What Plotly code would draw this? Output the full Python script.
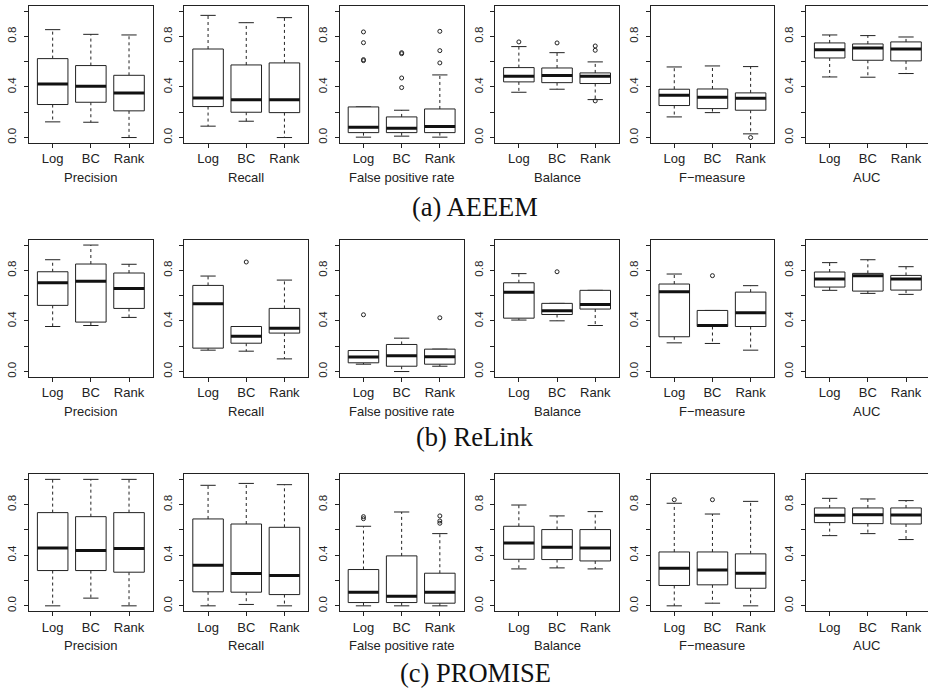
import plotly.graph_objects as go

METHODS = ["Log", "BC", "Rank"]
METRICS = ["Precision", "Recall", "False positive rate", "Balance", "F\u2212measure", "AUC"]
DATASETS = ["(a) AEEEM", "(b) ReLink", "(c) PROMISE"]
Y_TICKS = [0.0, 0.2, 0.4, 0.6, 0.8, 1.0]
Y_TICK_TEXT = ["0.0", "", "0.4", "", "0.8", ""]

# Each list: 6 metrics (Precision, Recall, FPR, Balance, F-measure, AUC) x 3 methods (Log, BC, Rank)
aeeem_low = [[0.124, 0.121, 0.0], [0.090, 0.129, 0.0], [0.003, 0.011, 0.003],
             [0.358, 0.382, 0.300], [0.163, 0.197, 0.029], [0.479, 0.477, 0.506]]
aeeem_q1 = [[0.261, 0.279, 0.211], [0.245, 0.200, 0.197], [0.039, 0.039, 0.039],
            [0.440, 0.434, 0.427], [0.253, 0.229, 0.216], [0.629, 0.611, 0.606]]
aeeem_med = [[0.424, 0.405, 0.353], [0.313, 0.298, 0.298], [0.082, 0.074, 0.087],
             [0.484, 0.490, 0.484], [0.334, 0.319, 0.311], [0.695, 0.708, 0.700]]
aeeem_q3 = [[0.624, 0.569, 0.492], [0.700, 0.574, 0.590], [0.242, 0.163, 0.226],
            [0.553, 0.550, 0.511], [0.382, 0.384, 0.353], [0.748, 0.740, 0.756]]
aeeem_high = [[0.853, 0.816, 0.811], [0.966, 0.908, 0.948], [0.242, 0.216, 0.495],
              [0.719, 0.671, 0.598], [0.558, 0.566, 0.561], [0.811, 0.806, 0.795]]
aeeem_out = [[[], [], []], [[], [], []],
             [[0.835, 0.750, 0.616, 0.608], [0.671, 0.663, 0.471, 0.395], [0.840, 0.687, 0.590]],
             [[0.756], [0.748], [0.724, 0.690, 0.290]], [[], [], [0.0]], [[], [], []]]

relink_low = [[0.356, 0.364, 0.428], [0.169, 0.161, 0.100], [0.058, 0.0, 0.042],
              [0.407, 0.401, 0.364], [0.227, 0.222, 0.169], [0.642, 0.618, 0.610]]
relink_q1 = [[0.523, 0.391, 0.499], [0.185, 0.224, 0.304], [0.069, 0.042, 0.058],
             [0.422, 0.451, 0.494], [0.275, 0.356, 0.356], [0.668, 0.636, 0.644]]
relink_med = [[0.702, 0.713, 0.657], [0.536, 0.280, 0.343], [0.114, 0.124, 0.116],
              [0.626, 0.481, 0.531], [0.631, 0.364, 0.465], [0.731, 0.758, 0.731]]
relink_q3 = [[0.789, 0.850, 0.779], [0.681, 0.356, 0.499], [0.166, 0.214, 0.177],
             [0.702, 0.539, 0.642], [0.692, 0.483, 0.628], [0.787, 0.776, 0.760]]
relink_high = [[0.884, 1.0, 0.848], [0.755, 0.356, 0.723], [0.166, 0.264, 0.177],
               [0.774, 0.539, 0.642], [0.771, 0.483, 0.679], [0.861, 0.884, 0.829]]
relink_out = [[[], [], []], [[], [0.866], []], [[0.449], [], [0.425]],
              [[], [0.789], []], [[], [0.758], []], [[], [], []]]

promise_low = [[0.0, 0.061, 0.0], [0.0, 0.011, 0.0], [0.0, 0.0, 0.0],
               [0.292, 0.300, 0.292], [0.0, 0.021, 0.0], [0.555, 0.571, 0.524]]
promise_q1 = [[0.279, 0.279, 0.266], [0.111, 0.108, 0.089], [0.026, 0.026, 0.021],
              [0.368, 0.366, 0.355], [0.161, 0.166, 0.139], [0.658, 0.650, 0.647]]
promise_med = [[0.458, 0.437, 0.453], [0.321, 0.255, 0.239], [0.108, 0.076, 0.108],
               [0.497, 0.463, 0.458], [0.297, 0.284, 0.258], [0.716, 0.721, 0.718]]
promise_q3 = [[0.737, 0.705, 0.737], [0.687, 0.647, 0.621], [0.287, 0.395, 0.258],
              [0.629, 0.603, 0.603], [0.426, 0.426, 0.411], [0.774, 0.774, 0.774]]
promise_high = [[1.0, 1.0, 1.0], [0.953, 0.968, 0.958], [0.629, 0.742, 0.571],
                [0.797, 0.711, 0.745], [0.811, 0.726, 0.826], [0.850, 0.845, 0.832]]
promise_out = [[[], [], []], [[], [], []], [[0.705, 0.689], [], [0.711, 0.671, 0.653]],
               [[], [], []], [[0.839], [0.839], []], [[], [], []]]

ROWS = [
    (aeeem_low, aeeem_q1, aeeem_med, aeeem_q3, aeeem_high, aeeem_out),
    (relink_low, relink_q1, relink_med, relink_q3, relink_high, relink_out),
    (promise_low, promise_q1, promise_med, promise_q3, promise_high, promise_out),
]

W, H = 928, 690
LINE = "#222222"
PANEL_LEFT0, PANEL_STEP, PANEL_W = 29.0, 155.4, 123.7
ROW_TOPS = [6.0, 240.0, 474.3]
PANEL_H = 136.6
X_RANGE = [0.38, 3.62]
Y_RANGE = [-0.04, 1.04]
BOX_HALF = 0.4
CAP_HALF = 0.2

fig = go.Figure()
layout = dict(width=W, height=H, margin=dict(l=0, r=0, t=0, b=0, pad=0, autoexpand=False),
              paper_bgcolor="white", plot_bgcolor="white", showlegend=False,
              font=dict(family="Liberation Sans, Arial, sans-serif", color="#222222"))
annotations = []

k = 0
for r, (low, q1, med, q3, high, outs) in enumerate(ROWS):
    top = ROW_TOPS[r]
    ydom = [1 - (top + PANEL_H) / H, 1 - top / H]
    for m, metric in enumerate(METRICS):
        k += 1
        xs = "" if k == 1 else str(k)
        left = PANEL_LEFT0 + m * PANEL_STEP
        right = min(left + PANEL_W, W - 0.5)
        xr = [X_RANGE[0], X_RANGE[0] + (X_RANGE[1] - X_RANGE[0]) * (right - left) / PANEL_W]
        xa, ya = "x" + xs, "y" + xs
        layout["xaxis" + xs] = dict(
            domain=[left / W, right / W], range=xr, anchor=ya, automargin=False,
            tickvals=[1, 2, 3], ticktext=METHODS, ticks="outside", ticklen=4,
            tickcolor=LINE, showline=True, linecolor=LINE, linewidth=1, mirror=True,
            showgrid=False, zeroline=False, fixedrange=True,
            tickfont=dict(size=13, color="#222222"))
        layout["yaxis" + xs] = dict(
            domain=ydom, range=Y_RANGE, anchor=xa, automargin=False,
            tickvals=Y_TICKS, ticktext=Y_TICK_TEXT, ticks="outside", ticklen=4,
            tickcolor=LINE, showline=True, linecolor=LINE, linewidth=1, mirror=True,
            showgrid=False, zeroline=False, fixedrange=True, tickangle=-90,
            tickfont=dict(size=11.5, color="#222222"), ticklabelstandoff=3)
        bx, by, mx, my, wx, wy, cx, cy, ox, oy = [], [], [], [], [], [], [], [], [], []
        for j in range(3):
            c = j + 1
            bx += [c - BOX_HALF, c + BOX_HALF, c + BOX_HALF, c - BOX_HALF, c - BOX_HALF, None]
            by += [q1[m][j], q1[m][j], q3[m][j], q3[m][j], q1[m][j], None]
            mx += [c - BOX_HALF, c + BOX_HALF, None]
            my += [med[m][j], med[m][j], None]
            wx += [c, c, None, c, c, None]
            wy += [q3[m][j], high[m][j], None, q1[m][j], low[m][j], None]
            cx += [c - CAP_HALF, c + CAP_HALF, None, c - CAP_HALF, c + CAP_HALF, None]
            cy += [high[m][j], high[m][j], None, low[m][j], low[m][j], None]
            for v in outs[m][j]:
                ox.append(c)
                oy.append(v)
        fig.add_trace(go.Scatter(x=wx, y=wy, mode="lines", xaxis=xa, yaxis=ya,
                                 line=dict(color=LINE, width=1, dash="3px,3px"), hoverinfo="skip"))
        fig.add_trace(go.Scatter(x=cx, y=cy, mode="lines", xaxis=xa, yaxis=ya,
                                 line=dict(color=LINE, width=1), hoverinfo="skip"))
        fig.add_trace(go.Scatter(x=bx, y=by, mode="lines", xaxis=xa, yaxis=ya, fill="toself",
                                 fillcolor="white", line=dict(color=LINE, width=1), hoverinfo="skip"))
        fig.add_trace(go.Scatter(x=mx, y=my, mode="lines", xaxis=xa, yaxis=ya,
                                 line=dict(color="#111111", width=3), hoverinfo="skip"))
        if ox:
            fig.add_trace(go.Scatter(x=ox, y=oy, mode="markers", xaxis=xa, yaxis=ya,
                                     marker=dict(symbol="circle-open", size=4, color=LINE,
                                                 line=dict(width=1, color=LINE)),
                                     hoverinfo="skip"))
        annotations.append(dict(text=metric, xref=xa + " domain", yref=ya + " domain",
                                x=0.5, y=0, yanchor="middle", xanchor="center", yshift=-35,
                                showarrow=False, font=dict(size=13, color="#222222")))
    title_y = [207, 437, 673][r]
    annotations.append(dict(text=DATASETS[r], xref="paper", yref="paper", x=475 / W,
                            y=1 - title_y / H, xanchor="center", yanchor="middle",
                            showarrow=False,
                            font=dict(family="Liberation Serif, Times New Roman, serif",
                                      size=26.5, color="#111111")))

layout["annotations"] = annotations
fig.update_layout(**layout)
fig.write_html("out.html", config={"displayModeBar": False},
               post_script="document.body.style.margin='0';document.body.style.padding='0';"
                           "document.body.style.overflow='hidden';")
